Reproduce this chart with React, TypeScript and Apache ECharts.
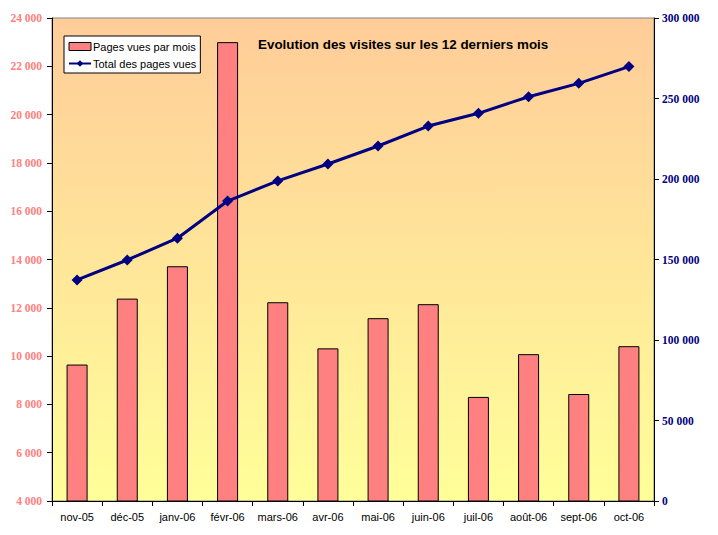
import React, { useEffect, useRef } from "react";
import * as echarts from "echarts";

const categories = ["nov-05", "déc-05", "janv-06", "févr-06", "mars-06", "avr-06", "mai-06", "juin-06", "juil-06", "août-06", "sept-06", "oct-06"];
const pagesParMois = [9650, 12380, 13720, 23000, 12230, 10320, 11570, 12150, 8310, 10080, 8430, 10410];
const totalPages = [137300, 149700, 163200, 186300, 198800, 209300, 220500, 232900, 240800, 251100, 259400, 269800];

const fmt = (v: number) => {
  const s = String(Math.round(v));
  return s.replace(/\B(?=(\d{3})+(?!\d))/g, " ");
};

export default function App() {
  const ref = useRef<HTMLDivElement>(null);
  useEffect(() => {
    const chart = echarts.init(ref.current!, null, { renderer: "svg" });
    chart.setOption({
      animation: false,
      backgroundColor: "#ffffff",
      title: {
        text: "Evolution des visites sur les 12 derniers mois",
        left: 258,
        top: 38,
        padding: 0,
        textStyle: { fontFamily: "Liberation Sans, Arial", fontSize: 13.4, fontWeight: "bold", color: "#000000" },
      },
      legend: {
        orient: "vertical",
        left: 64,
        top: 36,
        padding: [5, 4, 4, 4],
        itemGap: 6,
        itemWidth: 22,
        itemHeight: 8,
        backgroundColor: "#ffffff",
        borderColor: "#000000",
        borderWidth: 1,
        borderRadius: 0,
        textStyle: { fontFamily: "Liberation Sans, Arial", fontSize: 11, color: "#000000", padding: [0, 0, 0, -3] },
        data: [
          { name: "Pages vues par mois", icon: "rect", itemStyle: { borderWidth: 1, borderColor: "#000000", color: "#FF8080" } },
          { name: "Total des pages vues" },
        ],
      },
      grid: {
        left: 52,
        right: 64,
        top: 18,
        bottom: 34,
        show: true,
        borderColor: "#808080",
        borderWidth: 1,
        backgroundColor: new echarts.graphic.LinearGradient(0, 0, 0, 1, [
          { offset: 0, color: "#FFCC99" },
          { offset: 1, color: "#FFFF99" },
        ]),
      },
      xAxis: {
        type: "category",
        data: categories,
        boundaryGap: true,
        axisLine: { lineStyle: { color: "#000000", width: 1 } },
        axisTick: { show: true, alignWithLabel: false, length: 5, inside: false, lineStyle: { color: "#000000" } },
        axisLabel: { color: "#000000", fontFamily: "Liberation Sans, Arial", fontSize: 11, margin: 10, interval: 0 },
        splitLine: { show: false },
      },
      yAxis: [
        {
          type: "value",
          min: 4000,
          max: 24000,
          interval: 2000,
          position: "left",
          axisLine: { show: true, lineStyle: { color: "#000000", width: 1 } },
          axisTick: { show: true, length: 5, lineStyle: { color: "#000000" } },
          axisLabel: {
            color: "#FF8080",
            fontFamily: "Liberation Serif, Times New Roman",
            fontWeight: "bold",
            fontSize: 11.5,
            margin: 10,
            formatter: (v: number) => fmt(v),
          },
          splitLine: { show: false },
        },
        {
          type: "value",
          min: 0,
          max: 300000,
          interval: 50000,
          position: "right",
          axisLine: { show: true, lineStyle: { color: "#000000", width: 1 } },
          axisTick: { show: true, length: 5, lineStyle: { color: "#000000" } },
          axisLabel: {
            color: "#000080",
            fontFamily: "Liberation Serif, Times New Roman",
            fontWeight: "bold",
            fontSize: 11.5,
            margin: 8,
            formatter: (v: number) => fmt(v),
          },
          splitLine: { show: false },
        },
      ],
      series: [
        {
          name: "Pages vues par mois",
          type: "bar",
          yAxisIndex: 0,
          data: pagesParMois,
          barWidth: 21,
          itemStyle: { color: "#FF8080", borderColor: "#000000", borderWidth: 1 },
        },
        {
          name: "Total des pages vues",
          type: "line",
          yAxisIndex: 1,
          data: totalPages,
          symbol: "diamond",
          symbolSize: 11,
          lineStyle: { color: "#000080", width: 3 },
          itemStyle: { color: "#000080" },
        },
      ],
    });
    return () => chart.dispose();
  }, []);
  return <div ref={ref} style={{ position: "fixed", left: 0, top: 0, width: 718, height: 535 }} />;
}
